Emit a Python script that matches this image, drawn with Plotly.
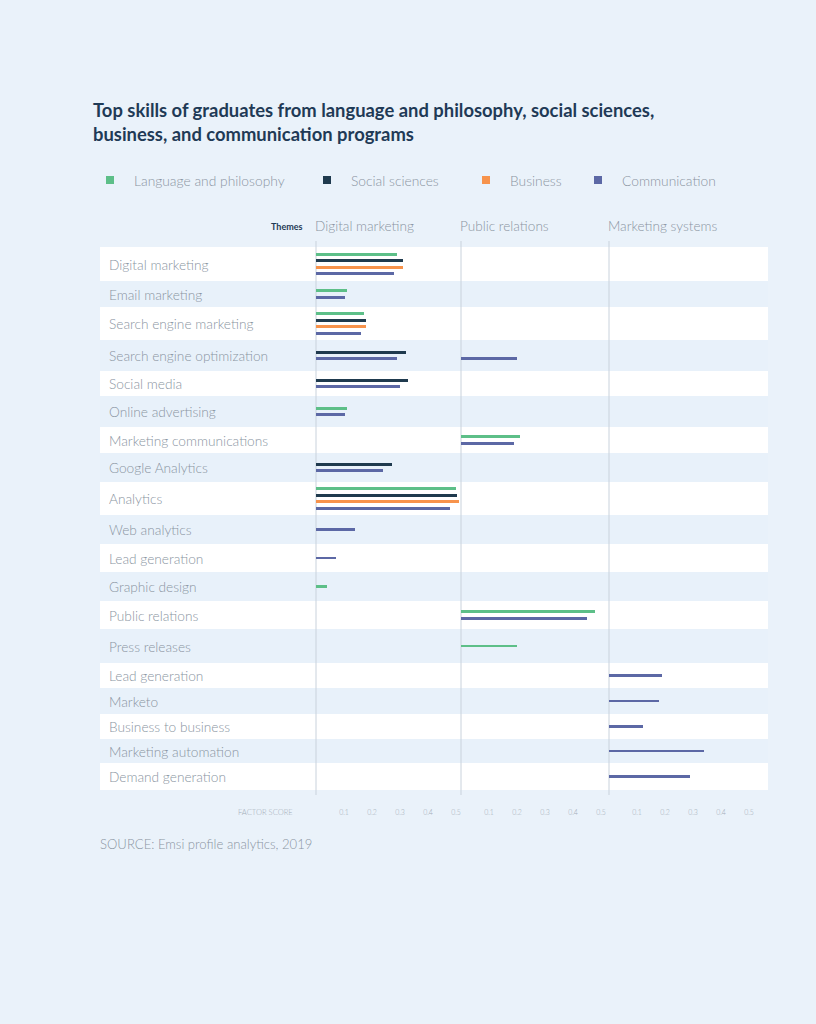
import plotly.graph_objects as go

# ---------------- data ----------------
skills = ["Digital marketing", "Email marketing", "Search engine marketing",
          "Search engine optimization", "Social media", "Online advertising",
          "Marketing communications", "Google Analytics", "Analytics",
          "Web analytics", "Lead generation", "Graphic design", "Public relations",
          "Press releases", "Lead generation", "Marketo", "Business to business",
          "Marketing automation", "Demand generation"]
themes = ["Digital marketing", "Public relations", "Marketing systems"]
series = ["Language and philosophy", "Social sciences", "Business", "Communication"]
tick_values = [0.1, 0.2, 0.3, 0.4, 0.5]
tick_labels = ["0.1", "0.2", "0.3", "0.4", "0.5"]

N = None
EMPTY = [N] * 19
language_dm = [0.29, 0.11, 0.17, N, N, 0.11, N, N, 0.50, N, N, 0.04, N, N, N, N, N, N, N]
language_pr = [N, N, N, N, N, N, 0.21, N, N, N, N, N, 0.48, 0.20, N, N, N, N, N]
language_ms = EMPTY
social_dm = [0.31, N, 0.18, 0.32, 0.33, N, N, 0.27, 0.505, N, N, N, N, N, N, N, N, N, N]
social_pr = EMPTY
social_ms = EMPTY
business_dm = [0.31, N, 0.18, N, N, N, N, N, 0.51, N, N, N, N, N, N, N, N, N, N]
business_pr = EMPTY
business_ms = EMPTY
comm_dm = [0.28, 0.105, 0.16, 0.29, 0.30, 0.105, N, 0.24, 0.48, 0.14, 0.07, N, N, N, N, N, N, N, N]
comm_pr = [N, N, N, 0.20, N, N, 0.19, N, N, N, N, N, 0.45, N, N, N, N, N, N]
comm_ms = [N, N, N, N, N, N, N, N, N, N, N, N, N, N, 0.19, 0.18, 0.12, 0.34, 0.29]

values = [
    [language_dm, language_pr, language_ms],
    [social_dm, social_pr, social_ms],
    [business_dm, business_pr, business_ms],
    [comm_dm, comm_pr, comm_ms],
]

# ---------------- styles / layout ----------------
colors = ["#5dbf88", "#1f3a4e", "#f7934c", "#5c68a5"]
BG = "#eaf2fa"
ROW_ALT = "#e8f1fa"
GRID = "#c9d2dc"
LABEL = "#8a95a2"
TITLE = "#1f3a56"
FONT = "Lato"

W, H = 816, 1024
L, R, T, B = 100, 768, 247, 790
panel_px = [316, 461, 609, 768]
PX_PER_UNIT = 280.0  # pixels per 1.0 factor score
row_heights_px = [34, 26, 33, 31, 25, 31, 26, 29, 33, 29, 28, 29, 28, 34, 25, 26, 25, 24, 27]
SLOT = 6.5
BAR_W = 2.8
TXT_PAD = 2


def xp(px):
    return (px - L) / (R - L)


def yp(py):
    return (B - py) / (B - T)


# ---------------- row layout ----------------
n_rows = len(skills)
present = []
for r in range(n_rows):
    present.append([s for s in range(len(series))
                    if any(values[s][t][r] is not None for t in range(len(themes)))])
heights = row_heights_px
tops = []
acc = 0.0
for h in heights:
    tops.append(acc)
    acc += h
total = acc

slot_y = {}
for r in range(n_rows):
    c = tops[r] + heights[r] / 2
    k = len(present[r])
    for i, s in enumerate(present[r]):
        slot_y[(r, s)] = c + (i - (k - 1) / 2) * SLOT

fig = go.Figure()

axis_names = ["x", "x2", "x3"]
for s, name in enumerate(series):
    for t in range(len(themes)):
        xs, ys = [], []
        for r in range(n_rows):
            v = values[s][t][r]
            if v is not None:
                xs.append(v)
                ys.append(slot_y[(r, s)])
        if not xs:
            continue
        fig.add_trace(go.Bar(
            x=xs, y=ys, orientation="h", width=BAR_W,
            marker=dict(color=colors[s], line=dict(width=0)),
            xaxis=axis_names[t], yaxis="y", name=name, showlegend=False,
            hovertemplate=name + ": %{x}<extra></extra>",
        ))

shapes = []
# row bands
for r in range(n_rows):
    shapes.append(dict(type="rect", xref="paper", yref="y", x0=0, x1=1,
                       y0=tops[r], y1=tops[r] + heights[r],
                       fillcolor="white" if r % 2 == 0 else ROW_ALT,
                       line=dict(width=0), layer="below"))
# panel separators
for px in panel_px[:3]:
    shapes.append(dict(type="line", xref="paper", yref="paper",
                       x0=xp(px), x1=xp(px), y0=yp(795), y1=yp(241),
                       line=dict(color=GRID, width=1), layer="below"))

annotations = []
# title
annotations.append(dict(
    xref="paper", yref="paper", x=xp(93 - TXT_PAD), y=yp(97), xanchor="left", yanchor="top",
    align="left", showarrow=False,
    text="<b>Top skills of graduates from language and philosophy, social sciences,<br>business, and communication programs</b>",
    font=dict(family=FONT, size=18.4, color=TITLE)))
# legend
legend_px = [110, 327, 486, 598]
for s, name in enumerate(series):
    cx = legend_px[s]
    shapes.append(dict(type="rect", xref="paper", yref="paper",
                       x0=xp(cx - 4), x1=xp(cx + 4), y0=yp(184), y1=yp(176),
                       fillcolor=colors[s], line=dict(width=0)))
    annotations.append(dict(xref="paper", yref="paper", x=xp(cx + 24 - TXT_PAD), y=yp(180),
                            xanchor="left", yanchor="middle", showarrow=False,
                            text=name, font=dict(family=FONT, size=13.8, color=LABEL, weight=300)))
# themes header
annotations.append(dict(xref="paper", yref="paper", x=xp(305), y=yp(226),
                        xanchor="right", yanchor="middle", showarrow=False,
                        text="<b>Themes</b>", font=dict(family=FONT, size=9, color=TITLE)))
for t, th in enumerate(themes):
    annotations.append(dict(xref="paper", yref="paper", x=xp(panel_px[t] - 1 - TXT_PAD), y=yp(226),
                            xanchor="left", yanchor="middle", showarrow=False,
                            text=th, font=dict(family=FONT, size=13.6, color=LABEL, weight=300)))
# row labels
for r, sk in enumerate(skills):
    annotations.append(dict(xref="paper", yref="y", x=xp(109 - TXT_PAD), y=tops[r] + heights[r] / 2,
                            xanchor="left", yanchor="middle", showarrow=False,
                            text=sk, font=dict(family=FONT, size=13.7, color=LABEL, weight=300)))
# factor score
annotations.append(dict(xref="paper", yref="paper", x=xp(295), y=yp(812),
                        xanchor="right", yanchor="middle", showarrow=False,
                        text="FACTOR SCORE", font=dict(family=FONT, size=7.6, color="#a3acb7", weight=300)))
# source
annotations.append(dict(xref="paper", yref="paper", x=xp(100 - TXT_PAD), y=yp(844),
                        xanchor="left", yanchor="middle", showarrow=False,
                        text="SOURCE: Emsi profile analytics, 2019",
                        font=dict(family=FONT, size=13.1, color=LABEL, weight=300)))

layout_axes = {}
for t in range(3):
    key = "xaxis" if t == 0 else f"xaxis{t + 1}"
    w_px = panel_px[t + 1] - panel_px[t]
    layout_axes[key] = dict(
        domain=[xp(panel_px[t]), xp(panel_px[t + 1])],
        range=[0, w_px / PX_PER_UNIT], anchor="y",
        showgrid=False, zeroline=False, showline=False, ticks="",
        tickvals=tick_values, ticktext=tick_labels,
        tickfont=dict(family=FONT, size=7, color="#a3acb7", weight=300),
        ticklabelstandoff=17, fixedrange=True,
    )

fig.update_layout(
    width=W, height=H,
    margin=dict(l=L, r=W - R, t=T, b=H - B, pad=0),
    paper_bgcolor=BG, plot_bgcolor=BG,
    barmode="overlay", bargap=0,
    showlegend=False,
    yaxis=dict(range=[total, 0], visible=False, fixedrange=True),
    shapes=shapes, annotations=annotations,
    font=dict(family=FONT),
    **layout_axes,
)

fig.write_html(
    "out.html",
    config={"displayModeBar": False},
    post_script="document.body.style.margin='0';document.body.style.overflow='hidden';document.body.style.background='" + BG + "';",
)
